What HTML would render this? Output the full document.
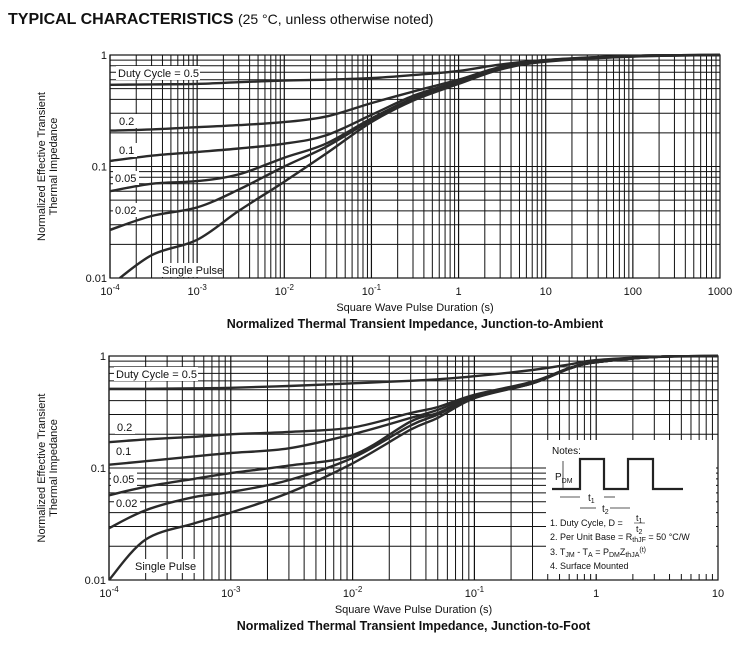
<!DOCTYPE html>
<html><head><meta charset="utf-8">
<style>
body{margin:0;background:#fff;width:741px;height:649px;overflow:hidden;font-family:"Liberation Sans",Arial,sans-serif;}
svg{position:absolute;left:0;top:0}
</style></head>
<body>
<svg id="svg" width="741" height="649" xmlns="http://www.w3.org/2000/svg">
<text x="8" y="24" font-size="16" font-weight="bold" fill="#111">TYPICAL CHARACTERISTICS <tspan font-weight="normal" font-size="14">(25 °C, unless otherwise noted)</tspan></text>
</svg>
<script>
// ---- Chart 1 (junction-to-ambient) data ----
const c1Labels = ["0.5","0.2","0.1","0.05","0.02","single"];
const c1X = [1e-4,3e-4,1e-3,3e-3,1e-2,0.03,0.1,0.3,1,3,10,100,1000];
const c1D05 = [0.54,0.545,0.55,0.57,0.59,0.6,0.62,0.66,0.72,0.82,0.9,0.98,1];
const c1D02 = [0.21,0.215,0.225,0.235,0.25,0.28,0.37,0.47,0.6,0.78,0.9,0.98,1];
const c1D01 = [0.112,0.125,0.135,0.145,0.16,0.19,0.29,0.43,0.58,0.77,0.89,0.98,1];
const c1D005 = [0.06,0.07,0.074,0.085,0.12,0.16,0.27,0.41,0.57,0.76,0.88,0.98,1];
const c1D002 = [0.027,0.036,0.043,0.062,0.1,0.15,0.26,0.4,0.56,0.75,0.88,0.97,1];
const c1Single = [0.0085,0.016,0.022,0.04,0.073,0.13,0.25,0.39,0.55,0.74,0.87,0.97,1];
const c1XTicks = ["-4","-3","-2","-1","1","10","100","1000"];
// ---- Chart 2 (junction-to-foot) data ----
const c2X = [1e-4,2e-4,5e-4,1e-3,3e-3,1e-2,0.03,0.05,0.1,0.3,0.6,1,3,10];
const c2D05 = [0.51,0.51,0.515,0.52,0.54,0.57,0.6,0.62,0.66,0.75,0.84,0.92,0.98,1];
const c2D02 = [0.17,0.18,0.19,0.2,0.21,0.23,0.31,0.35,0.45,0.59,0.78,0.88,0.98,1];
const c2D01 = [0.107,0.115,0.127,0.136,0.15,0.2,0.28,0.33,0.44,0.58,0.78,0.88,0.98,1];
const c2D005 = [0.057,0.068,0.08,0.09,0.105,0.13,0.26,0.31,0.43,0.58,0.78,0.88,0.98,1];
const c2D002 = [0.029,0.042,0.055,0.061,0.078,0.123,0.24,0.3,0.43,0.57,0.77,0.88,0.98,1];
const c2Single = [0.01,0.023,0.032,0.04,0.06,0.11,0.22,0.28,0.42,0.57,0.77,0.88,0.98,1];
const c2XTicks = ["-4","-3","-2","-1","1","10"];

const NS="http://www.w3.org/2000/svg";
const svg=document.getElementById('svg');
function mk(tag,attrs,parent){const e=document.createElementNS(NS,tag);for(const k in attrs)e.setAttribute(k,attrs[k]);(parent||svg).appendChild(e);return e;}
function smooth(pts){
  let d='M'+pts[0][0].toFixed(1)+','+pts[0][1].toFixed(1);
  for(let i=0;i<pts.length-1;i++){
    const p0=pts[Math.max(i-1,0)],p1=pts[i],p2=pts[i+1],p3=pts[Math.min(i+2,pts.length-1)];
    const c1=[p1[0]+(p2[0]-p0[0])/6,p1[1]+(p2[1]-p0[1])/6];
    const c2=[p2[0]-(p3[0]-p1[0])/6,p2[1]-(p3[1]-p1[1])/6];
    d+=` C${c1[0].toFixed(1)},${c1[1].toFixed(1)} ${c2[0].toFixed(1)},${c2[1].toFixed(1)} ${p2[0].toFixed(1)},${p2[1].toFixed(1)}`;
  }
  return d;
}

function drawChart(o){
  const g=mk('g',{});
  
  
  const xs=v=>o.L+(Math.log10(v)-o.xMin)/(o.xMax-o.xMin)*(o.R-o.L);
  const ys=v=>o.T+(0-Math.log10(v))/2*(o.B-o.T);
  for(let d=o.xMin;d<o.xMax;d++){for(let m=1;m<=9;m++){const x=xs(m*Math.pow(10,d));
    const l=mk('line',{x1:x,x2:x,y1:o.T,y2:o.B,stroke:'#111','stroke-width':m==1?1.2:1},g);
    }}
  for(let d=-2;d<0;d++){for(let m=1;m<=9;m++){const y=ys(m*Math.pow(10,d));
    const l=mk('line',{x1:o.L,x2:o.R,y1:y,y2:y,stroke:'#111','stroke-width':1},g);
    }}
  const fr=mk('rect',{x:o.L,y:o.T,width:o.R-o.L,height:o.B-o.T,fill:'none',stroke:'#111','stroke-width':1.2},g);
  
  if(o.notes){const nb=mk('rect',{x:o.notes[0],y:o.notes[1],width:o.notes[2],height:o.notes[3],fill:'#fff'},g);
    }
  const clipId='clip'+o.name;
  const cp=mk('clipPath',{id:clipId},g);mk('rect',{x:o.L,y:o.T-2,width:o.R-o.L,height:o.B-o.T+2},cp);
  o.series.forEach((s,i)=>{
    const pts=o.xv.map((x,j)=>[xs(x),ys(Math.max(s[j],0.0085))]);
    const p=mk('path',{d:smooth(pts),fill:'none',stroke:'#2a2a2a','stroke-width':2.4,'stroke-linejoin':'round','clip-path':`url(#${clipId})`},g);
    
    
  });
  [[1,'1'],[0.1,'0.1'],[0.01,'0.01']].forEach(([v,t])=>{
    const e=mk('text',{x:o.L-3,y:ys(v)+4,'font-size':11,'text-anchor':'end',fill:'#111'},g);e.textContent=t;
    });
  o.ticks.forEach((t,i)=>{
    const x=xs(Math.pow(10,o.xMin+i));
    const e=mk('text',{x:x,y:o.B+17,'font-size':11,'text-anchor':'middle',fill:'#111'},g);
    if(t.startsWith('-')){e.textContent='10';const ts=mk('tspan',{dy:-5,'font-size':8},e);ts.textContent=t;}
    else e.textContent=t;
    });
  const cy=(o.T+o.B)/2;
  const yt=mk('text',{transform:`translate(47,${cy}) rotate(-90)`,'font-size':11,'text-anchor':'middle',fill:'#111'},g);
  yt.innerHTML='<tspan x="0" dy="-2">Normalized Effective Transient</tspan><tspan x="0" dy="12">Thermal Impedance</tspan>';
  
  const xt=mk('text',{x:(o.L+o.R)/2,y:o.B+33,'font-size':11,'text-anchor':'middle',fill:'#111'},g);
  xt.textContent='Square Wave Pulse Duration (s)';
  const ct=mk('text',{x:(o.L+o.R)/2,y:o.B+50,'font-size':12.5,'font-weight':'bold','text-anchor':'middle',fill:'#111'},g);
  ct.textContent=o.caption;
  o.labels.forEach(([t,x,y,w])=>{
    const r=mk('rect',{x:x-2,y:y-11,width:w,height:14,fill:'#fff'},g);
    
    const e=mk('text',{x:x,y:y,'font-size':11,fill:'#111'},g);e.textContent=t;
    });
}

drawChart({name:'chart-junction-to-ambient',L:110,R:720,T:55,B:278,xMin:-4,xMax:3,xv:c1X,
  series:[c1D05,c1D02,c1D01,c1D005,c1D002,c1Single],ticks:c1XTicks,
  caption:'Normalized Thermal Transient Impedance, Junction-to-Ambient',
  labels:[['Duty Cycle = 0.5',118,77,84],['0.2',119,125,20],['0.1',119,154,20],['0.05',115,182,26],['0.02',115,214,26],['Single Pulse',162,274,62]]});
drawChart({name:'chart-junction-to-foot',L:109,R:718,T:356,B:580,xMin:-4,xMax:1,xv:c2X,
  series:[c2D05,c2D02,c2D01,c2D005,c2D002,c2Single],ticks:c2XTicks,
  notes:[546,440,170,134],
  caption:'Normalized Thermal Transient Impedance, Junction-to-Foot',
  labels:[['Duty Cycle = 0.5',116,378,84],['0.2',117,431,20],['0.1',116,455,20],['0.05',113,483,26],['0.02',116,507,26],['Single Pulse',135,570,62]]});

const n=mk('g',{});


n.innerHTML=`
<text x="552" y="454" font-size="10" fill="#111">Notes:</text>
<path d="M552,489 H580 V459 H604 V489 H628 V459 H653 V489 H683" fill="none" stroke="#222" stroke-width="2.2"/>
<line x1="563" y1="461" x2="563" y2="489" stroke="#222" stroke-width="0.8"/>
<text x="555" y="480" font-size="10" fill="#111">P<tspan font-size="7" dy="3">DM</tspan></text>
<line x1="560" y1="497" x2="580" y2="497" stroke="#222" stroke-width="0.8"/>
<line x1="604" y1="497" x2="615" y2="497" stroke="#222" stroke-width="0.8"/>
<text x="588" y="501" font-size="10" fill="#111">t<tspan font-size="7" dy="2">1</tspan></text>
<line x1="580" y1="508" x2="596" y2="508" stroke="#222" stroke-width="0.8"/>
<line x1="610" y1="508" x2="630" y2="508" stroke="#222" stroke-width="0.8"/>
<text x="602" y="512" font-size="10" fill="#111">t<tspan font-size="7" dy="2">2</tspan></text>
<text x="550" y="526" font-size="9" fill="#111">1. Duty Cycle, D =</text>
<text x="636" y="521" font-size="9" fill="#111">t<tspan font-size="7" dy="2">1</tspan></text>
<line x1="634" y1="523" x2="645" y2="523" stroke="#222" stroke-width="0.6"/>
<text x="636" y="532" font-size="9" fill="#111">t<tspan font-size="7" dy="2">2</tspan></text>
<text x="550" y="540" font-size="9" fill="#111">2. Per Unit Base = R<tspan font-size="7" dy="2">thJF</tspan><tspan dy="-2"> = 50 °C/W</tspan></text>
<text x="550" y="555" font-size="9" fill="#111">3. T<tspan font-size="7" dy="2">JM</tspan><tspan dy="-2"> - T</tspan><tspan font-size="7" dy="2">A</tspan><tspan dy="-2"> = P</tspan><tspan font-size="7" dy="2">DM</tspan><tspan dy="-2">Z</tspan><tspan font-size="7" dy="2">thJA</tspan><tspan font-size="7" dy="-5">(t)</tspan></text>
<text x="550" y="569" font-size="9" fill="#111">4. Surface Mounted</text>`;
</script>
</body></html>
